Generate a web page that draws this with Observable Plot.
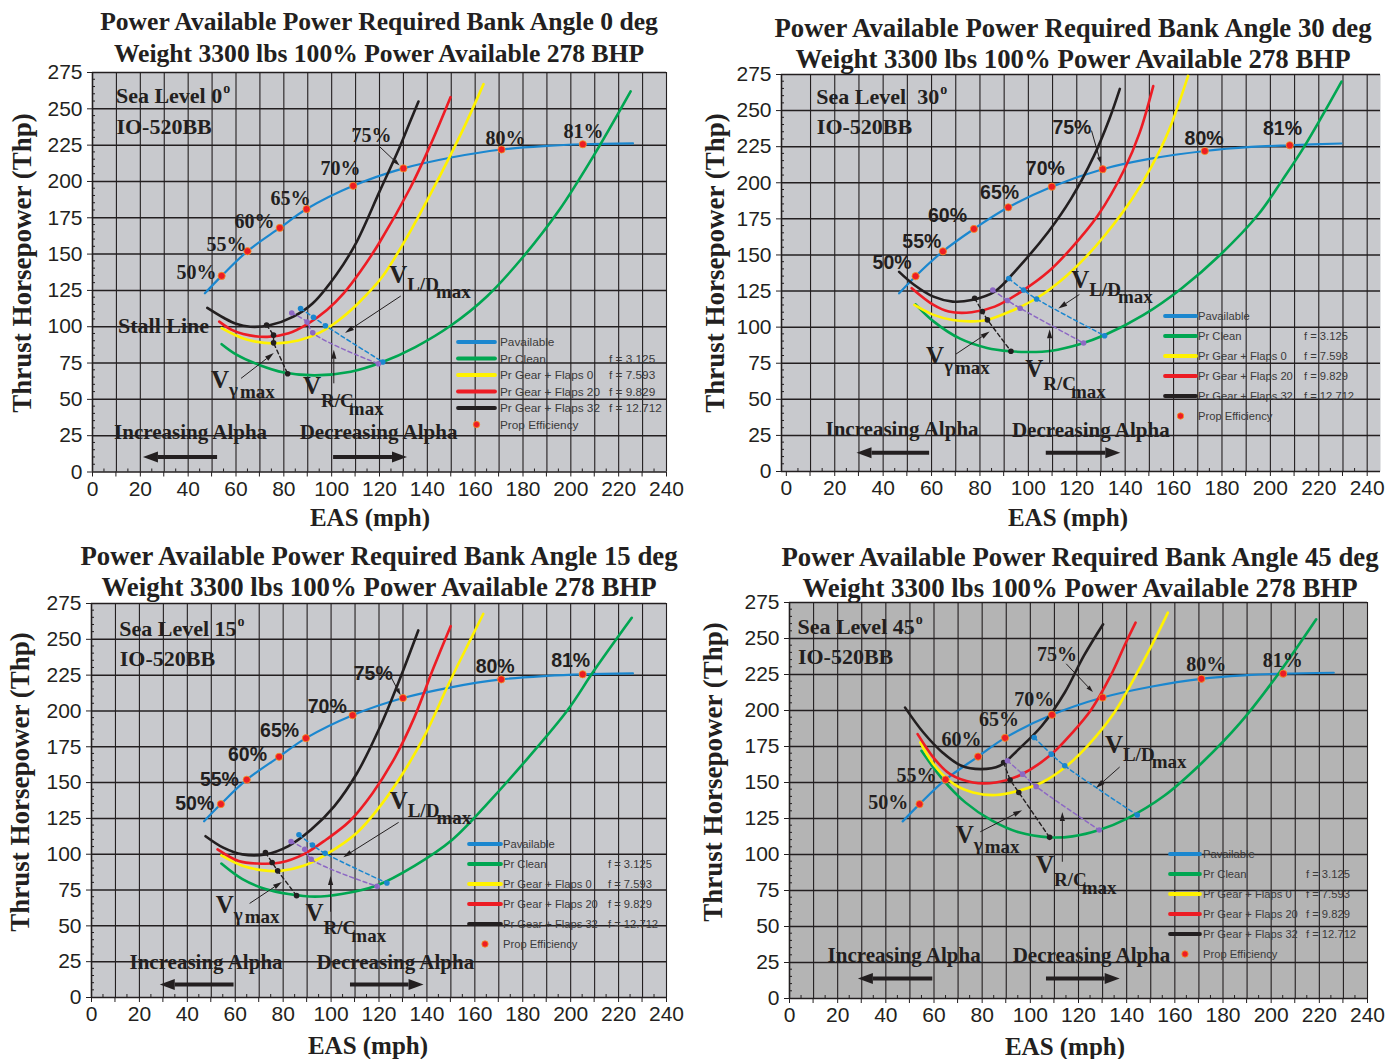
<!DOCTYPE html>
<html><head><meta charset="utf-8">
<script src="https://cdn.jsdelivr.net/npm/d3@7"></script>
<script src="https://cdn.jsdelivr.net/npm/@observablehq/plot@0.6"></script>
<style>
body{margin:0;background:#fff;width:1398px;height:1059px;position:relative;overflow:hidden;}
.title{position:absolute;width:760px;font-family:'Liberation Serif','Times New Roman',serif;font-weight:bold;text-align:center;color:#231f20;white-space:nowrap;}
.panel{position:absolute;}
</style></head><body>
<script>
// ---------------- DATA ----------------
const xLabelTicks = [0,20,40,60,80,100,120,140,160,180,200,220,240];
const yLabelTicks = [0,25,50,75,100,125,150,175,200,225,250,275];

// Power available (read from the 0, 15 and 45 deg panels)
const pavailable = [[47,123],[54,135],[64.8,152],[78.3,168],[89.5,181],[109,197],[130,209],[150,216.5],[171,222],[190,224.5],[205,225.6],[226,226.2]];
// Power available as drawn in the 30 deg panel
const pavailable30 = [[46.6,123.4],[53.4,135.3],[64.7,152.5],[77.5,168],[91.7,183],[109.7,197.3],[130.7,209.4],[150,216.5],[172.9,222],[192,224.8],[208,226],[229.4,227.2]];
const effLabels = ["50%","55%","60%","65%","70%","75%","80%","81%"];
const effSpeed  = [54, 64.8, 78.3, 89.5, 109, 130, 171, 205];
const effSpeed30 = [53.4, 64.7, 77.5, 91.7, 109.7, 130.7, 172.9, 208];
const effThp    = [135, 152, 168, 181, 197, 209, 222, 225.6];
const effThp30  = [135.3, 152.5, 168, 183, 197.3, 209.4, 222, 226];

const seriesNames = ["Pr Clean","Pr Gear + Flaps 0","Pr Gear + Flaps 20","Pr Gear + Flaps 32"];
const seriesF = ["f = 3.125","f = 7.593","f = 9.829","f = 12.712"];

// Bank 0 deg
const clean0 = [[54,88],[60,81],[70,73.5],[80,68.5],[93,66.5],[108,69],[121,75.5],[135,86],[150,101],[165,121],[180,148],[195,180],[210,219],[225,262]];
const flaps0_0 = [[54,99],[60,94],[66,90.5],[76,88.5],[86,90.5],[95,96],[103,104.5],[111,116],[121,134],[133,166],[145,203],[155,236],[163.5,267]];
const flaps20_0 = [[53,103.5],[58,98],[63,95],[73,93],[82,95.5],[90,102],[98,111.5],[105,123],[112,138],[120,158],[133,196],[141,224],[149.7,258]];
const flaps32_0 = [[48,113],[55,106],[60,102],[66,100],[74,101],[84,107],[92,116],[102,136],[110,157],[120,193],[128,222],[133,242],[136.3,255]];
const vgam0 = [[72.8,101.2],[75.7,94.2],[75.7,88.9],[81.6,67.6]];
const vld0 = [[87,112.5],[92.4,106.5],[97.4,100.7],[121.4,75.7]];
const vrc0 = [[83.3,109.5],[89.7,103.2],[92.1,95.8],[119.5,74.5]];

// Bank 30 deg
const clean30 = [[53.4,115.8],[60.8,104],[71.8,92],[82.9,85.6],[92.4,83.3],[100.3,82.8],[109.7,83.7],[120.8,88],[131.8,94.7],[147.6,108.5],[163.4,127],[179.2,150],[195,178],[205,202],[214,225],[229.4,270]];
const flaps0_30 = [[52.9,115.4],[60.8,108.5],[68.7,105],[76.6,104],[82.9,105],[92.4,110.8],[103.4,120],[114.5,133.7],[124,149],[131.8,164],[142.9,189],[150.8,211],[158,236],[166,274]];
const flaps20_30 = [[51.8,127],[60.8,115.4],[67.1,110.8],[76.6,110.3],[86.1,114.2],[97.1,124.6],[108.2,138.3],[117.6,154.4],[128.7,177.3],[139.7,209.4],[146,234.7],[151.6,267]];
const flaps32_30 = [[46.6,138.3],[52.9,129.2],[60.8,121.1],[68.7,117.7],[76.6,118.8],[86.1,124.6],[95.5,140.6],[108.2,165.9],[117.6,188.8],[127.1,218.6],[133.4,243.8],[137.8,265]];
const vgam30 = [[77.8,120],[81,110.8],[83.1,105],[92.8,83.3]];
const vld30 = [[91.9,133.7],[98,125.7],[103.4,119.5],[131.5,94]];
const vrc30 = [[85.3,125.7],[91.4,118.4],[96.6,113.1],[122.8,89]];

// Bank 15 deg
const clean15 = [[54.2,93.5],[63,82.6],[72.6,75.7],[82.2,72.2],[93.3,70.4],[104.4,72.2],[118.8,78],[134.8,91.9],[150.7,110.3],[166.7,138],[182.6,168],[198.6,200.3],[209.7,228],[225.5,265]];
const flaps0_15 = [[54.2,99.2],[63,91.9],[71,88.9],[78.9,88.4],[88.5,91.9],[98,99.9],[110.8,115],[120.4,133.4],[130,156.5],[139.5,184.2],[149.1,219],[158.7,251.5],[163.5,267.7]];
const flaps20_15 = [[52.6,103.4],[61.4,95.3],[69.3,93.5],[78.9,94.2],[88.5,99.9],[98,110.3],[107.7,123],[117.3,142.6],[126.8,168],[134.8,195.7],[142.8,230.3],[149.9,259.2]];
const flaps32_15 = [[47.6,112.6],[55,104.6],[63,99.9],[72.6,99.9],[82.2,105.7],[91.7,117.2],[101.3,133.4],[110.8,156.5],[120.4,188.8],[128.4,221.1],[136.4,256.2]];
const vgam15 = [[72.6,101.1],[75.4,94.2],[77.7,88.4],[85.6,71.1]];
const vld15 = [[86.6,113.6],[92.2,106.4],[97.5,100.6],[123.3,79.9]];
const vrc15 = [[83.3,108.9],[89,103.4],[91.7,96.5],[119.2,77.6]];

// Bank 45 deg
const clean45 = [[54.8,172],[63.5,152.4],[73,136.2],[84.1,123.5],[95.2,115.4],[108,111.9],[117.5,112.6],[128.6,117],[139.7,124.6],[155.6,140.8],[171.4,163.9],[187.3,191.7],[203.2,225.9],[218.7,263.3]];
const flaps0_45 = [[54.3,177.8],[60.3,161.6],[68.3,148.9],[76.2,143.1],[85.7,141.3],[95.2,144.3],[104.8,150],[114.3,160.4],[123.8,175.5],[134.9,198.6],[144.4,226.3],[152.4,251.8],[157.1,268]];
const flaps20_45 = [[53.2,183.6],[60.3,166.2],[66.7,155.8],[76.2,150],[85.7,150],[95.2,154.7],[108,168.5],[117.5,184.7],[125.4,200.9],[133.3,224],[139.7,247.2],[143.7,261]];
const flaps32_45 = [[48,202],[55.6,184.7],[63.5,170.9],[71.4,161.6],[79.4,159.3],[87.3,161.6],[95.2,173.2],[104.8,189.4],[114.3,212.5],[122.2,237.9],[130.2,259.9]];
const vgam45 = [[88.9,163.9],[91.6,151.7],[95.2,143.1],[108,111.9]];
const vld45 = [[101.6,181.3],[108.7,169.7],[114.3,161.6],[144.4,127.4]];
const vrc45 = [[90.5,165.1],[96.8,155.8],[102.4,147.3],[128.6,117]];

// ---------------- STYLE ----------------
const INK = "#231f20";
const BLUE = "#1b87cf", GREEN = "#00a651", YELLOW = "#fff200", RED = "#ed1c24", PURPLE = "#8d68c4";
const SERIF = "'Liberation Serif','Times New Roman',serif";
const SANS = "'Liberation Sans',Arial,sans-serif";
const seriesColors = [GREEN, YELLOW, RED, INK];
const W = 699;

const panels = [
  { title:["Power Available Power Required Bank Angle 0 deg","Weight 3300 lbs 100% Power Available 278 BHP"],
    tcx:379, ttop:6, tsize:25.6, tlh:32,
    left:0, top:66, h:466, mL:92, mR:33, mT:6, mB:60.5, xDomain:[0,240], bg:"#c8c9cd",
    pav:pavailable, effX:effSpeed, effY:effThp,
    curves:[clean0, flaps0_0, flaps20_0, flaps32_0], vg:vgam0, ld:vld0, rc:vrc0,
    seaText:"Sea Level 0", sea:[10,253.7], io:[10,233],
    pctFont:SERIF, pctSize:20,
    pct:[[43.5,137.3],[56,156.6],[67.7,172.4],[82.8,188.3],[103.7,208.9],[116.7,231.6],[172.7,229.6],[205.3,234.4]],
    lead75:[120.4,223.4,128.6,210.6],
    stall:[29.7,100.2],
    vLD:[128,135.3], aLD:[129.1,120.8,105.8,95.4],
    vG:[53.5,63], aG:[62.3,64.1,76,81.5],
    vRC:[92,58.9], aRC:[101.1,60.7,101.1,83.8],
    inc:[41,27.2], aInc:[52.3,10,21.3,10], dec:[119.6,27.2], aDec:[100.8,10,131.7,10],
    yT:[22,263], xT:[370,517],
    leg:{x1:458,x2:495,lx:500,fx:609,y0:342,dy:16.5,fs:11.8} },
  { title:["Power Available Power Required Bank Angle 30 deg","Weight 3300 lbs 100% Power Available 278 BHP"],
    tcx:1073, ttop:12.5, tsize:26.8, tlh:31,
    left:699, top:68, h:464, mL:82, mR:18, mT:6, mB:61, xDomain:[-2,245.5], bg:"#c8c9cd",
    pav:pavailable30, effX:effSpeed30, effY:effThp30,
    curves:[clean30, flaps0_30, flaps20_30, flaps32_30], vg:vgam30, ld:vld30, rc:vrc30,
    seaText:"Sea Level\u00a0 30", sea:[12.6,254.2], io:[12.6,233.5],
    pctFont:SANS, pctSize:19.5,
    pct:[[43.7,144.8],[56,159],[66.6,176.9],[88.1,193.4],[107,209.4],[118,238.1],[172.6,230.5],[205,237.4]],
    lead75:[126.3,235.8,130.2,212.8],
    stall:null,
    vLD:[121.6,132.6], aLD:[121.3,122.3,112.6,112.6],
    vG:[61.6,79.8], aG:[70.3,81,84.2,96.6],
    vRC:[102.6,70.7], aRC:[109,74.1,109,98.2],
    inc:[47.8,29.4], aInc:[59.2,12.6,29.2,12.6], dec:[125.8,28.9], aDec:[107.4,12.6,138.2,12.6],
    yT:[715,263], xT:[1068,517],
    leg:{x1:1165,x2:1196,lx:1198,fx:1304,y0:316,dy:20,fs:11.2} },
  { title:["Power Available Power Required Bank Angle 15 deg","Weight 3300 lbs 100% Power Available 278 BHP"],
    tcx:379, ttop:540.5, tsize:26.8, tlh:31,
    left:0, top:597, h:462, mL:91, mR:33, mT:6, mB:62, xDomain:[0,240], bg:"#c8c9cd",
    pav:pavailable, effX:effSpeed, effY:effThp,
    curves:[clean15, flaps0_15, flaps20_15, flaps32_15], vg:vgam15, ld:vld15, rc:vrc15,
    seaText:"Sea Level 15", sea:[11.8,252], io:[11.8,231.7],
    pctFont:SANS, pctSize:19.5,
    pct:[[43.1,135.5],[53.4,152],[65.1,169.6],[78.5,186.5],[98.4,203.1],[117.6,226.2],[168.5,231],[200,235.3]],
    lead75:[125.2,223.4,129.2,210.6],
    stall:null,
    vLD:[128.4,136.9], aLD:[128.4,121.9,105.3,97.6],
    vG:[55.8,64.2], aG:[66.2,65.3,79.7,80.3],
    vRC:[93.3,58.4], aRC:[100,59.5,100,84.5],
    inc:[47.8,24.9], aInc:[59.5,8.8,28.7,8.8], dec:[126.8,24.9], aDec:[108.1,8.8,138.8,8.8],
    yT:[20,782], xT:[368,1045],
    leg:{x1:469,x2:501,lx:503,fx:608,y0:844,dy:20,fs:11.2} },
  { title:["Power Available Power Required Bank Angle 45 deg","Weight 3300 lbs 100% Power Available 278 BHP"],
    tcx:1080, ttop:541.5, tsize:26.8, tlh:31,
    left:699, top:596, h:463, mL:90, mR:31, mT:6, mB:61, xDomain:[0,240], bg:"#b4b4b4",
    pav:pavailable, effX:effSpeed, effY:effThp,
    curves:[clean45, flaps0_45, flaps20_45, flaps32_45], vg:vgam45, ld:vld45, rc:vrc45,
    seaText:"Sea Level 45", sea:[3.5,253], io:[3.5,232],
    pctFont:SERIF, pctSize:20,
    pct:[[41,135.7],[52.7,154.7],[71.4,180.1],[87,194],[101.6,207.9],[111.1,239],[173,232.1],[204.8,234.4]],
    lead75:[115.1,232.1,126.2,212.5],
    stall:null,
    vLD:[134.9,175.5], aLD:[137.3,160.4,127.5,145.9],
    vG:[73,113], aG:[79.4,115.4,96.8,130.4],
    vRC:[106.3,92.2], aRC:[113.5,94.6,113.5,129.2],
    inc:[47.6,29.8], aInc:[59.5,13.6,28.6,13.6], dec:[125.4,30.3], aDec:[106.7,13.6,137.3,13.6],
    yT:[713,772], xT:[1065,1046],
    leg:{x1:1170,x2:1200,lx:1203,fx:1306,y0:854,dy:20,fs:11.2} }
];

// ---------------- HELPERS ----------------
function arrow(g, x1, y1, x2, y2, {w = 1, head = 9, hw = 2.6, color = INK} = {}) {
  const dx = x2 - x1, dy = y2 - y1, L = Math.hypot(dx, dy), ux = dx / L, uy = dy / L;
  const bx = x2 - ux * head, by = y2 - uy * head;
  g.append("line").attr("x1", x1).attr("y1", y1).attr("x2", bx).attr("y2", by)
    .attr("stroke", color).attr("stroke-width", w);
  g.append("path").attr("d", `M${x2},${y2}L${bx - uy * hw},${by + ux * hw}L${bx + uy * hw},${by - ux * hw}Z`).attr("fill", color);
}
function vLabel(g, cx, cy, kind) {
  const t = g.append("text").attr("x", cx - 9).attr("y", cy + 8).attr("text-anchor", "start")
    .attr("font-family", SERIF).attr("font-weight", "bold").attr("fill", INK);
  t.append("tspan").attr("font-size", 25).text("V");
  if (kind === "ld") {
    t.append("tspan").attr("font-size", 19).attr("dy", 8).text("L/D");
    t.append("tspan").attr("font-size", 19).attr("dy", 7).attr("dx", -3).text("max");
  } else if (kind === "g") {
    t.append("tspan").attr("font-size", 19).attr("dy", 8).text("γ");
    t.append("tspan").attr("font-size", 19).attr("dy", 2).attr("dx", 2).text("max");
  } else {
    t.append("tspan").attr("font-size", 19).attr("dy", 13).text("R/C");
    t.append("tspan").attr("font-size", 19).attr("dy", 8).attr("dx", -5).text("max");
  }
}

// ---------------- BUILD ----------------
for (const p of panels) {
  const td = document.createElement("div");
  td.className = "title";
  td.style.left = (p.tcx - 380) + "px";
  td.style.top = p.ttop + "px";
  td.style.fontSize = p.tsize + "px";
  td.style.lineHeight = p.tlh + "px";
  td.innerHTML = p.title.map(s => `<div>${s}</div>`).join("");
  document.body.appendChild(td);

  const idx = d3.range(effLabels.length);
  const marks = [
    Plot.frame({fill: p.bg, stroke: null}),
    Plot.gridX(d3.range(10, 241, 10), {stroke: INK, strokeOpacity: 1, strokeWidth: 1.1}),
    Plot.gridY(d3.range(25, 276, 25), {stroke: INK, strokeOpacity: 1, strokeWidth: 1.5}),
    Plot.ruleY([0], {stroke: INK, strokeWidth: 1.6}),
    Plot.ruleX([p.xDomain[0]], {stroke: INK, strokeWidth: 1.6}),
    Plot.axisX(xLabelTicks, {tickSize: 5, tickPadding: 4, fontSize: 21, fontFamily: SANS, color: INK, label: null}),
    Plot.axisY(yLabelTicks, {tickSize: 5, tickPadding: 5, fontSize: 21, fontFamily: SANS, color: INK, label: null}),
    Plot.line(p.pav, {x: d => d[0], y: d => d[1], stroke: BLUE, strokeWidth: 2.2, curve: "catmull-rom", clip: true}),
  ];
  p.curves.forEach((c, i) => marks.push(
    Plot.line(c, {x: d => d[0], y: d => d[1], stroke: seriesColors[i], strokeWidth: 2.6, curve: "catmull-rom", clip: true})
  ));
  marks.push(
    Plot.line(p.vg, {x: d => d[0], y: d => d[1], stroke: INK, strokeWidth: 1.4, strokeDasharray: "4,3"}),
    Plot.line(p.ld, {x: d => d[0], y: d => d[1], stroke: BLUE, strokeWidth: 1.5, strokeDasharray: "4,3", curve: "catmull-rom"}),
    Plot.line(p.rc, {x: d => d[0], y: d => d[1], stroke: PURPLE, strokeWidth: 1.5, strokeDasharray: "4,3", curve: "catmull-rom"}),
    Plot.dot(p.vg, {x: d => d[0], y: d => d[1], r: 2.8, fill: INK}),
    Plot.dot(p.ld, {x: d => d[0], y: d => d[1], r: 2.8, fill: BLUE}),
    Plot.dot(p.rc, {x: d => d[0], y: d => d[1], r: 2.8, fill: PURPLE}),
    Plot.dot(idx, {x: i => p.effX[i], y: i => p.effY[i], r: 3.6, fill: RED, stroke: "#f7941d", strokeWidth: 0.8}),
    Plot.text(idx, {x: i => p.pct[i][0], y: i => p.pct[i][1], text: i => effLabels[i], fontSize: p.pctSize, fontWeight: "bold", fontFamily: p.pctFont, fill: INK}),
    Plot.text(["IO-520BB"], {x: () => p.io[0], y: () => p.io[1], text: d => d, textAnchor: "start", lineAnchor: "bottom", fontSize: 22, fontWeight: "bold", fontFamily: SERIF, fill: INK}),
    Plot.text(["Increasing Alpha"], {x: () => p.inc[0], y: () => p.inc[1], text: d => d, fontSize: 21, fontWeight: "bold", fontFamily: SERIF, fill: INK}),
    Plot.text(["Decreasing Alpha"], {x: () => p.dec[0], y: () => p.dec[1], text: d => d, fontSize: 21, fontWeight: "bold", fontFamily: SERIF, fill: INK})
  );
  if (p.stall) marks.push(Plot.text(["Stall Line"], {x: () => p.stall[0], y: () => p.stall[1], text: d => d, fontSize: 22, fontWeight: "bold", fontFamily: SERIF, fill: INK}));

  const svg = Plot.plot({
    width: W, height: p.h,
    marginLeft: p.mL, marginRight: p.mR, marginTop: p.mT, marginBottom: p.mB,
    x: {domain: p.xDomain},
    y: {domain: [0, 275]},
    style: {background: "transparent", overflow: "visible", fontFamily: SANS},
    marks
  });
  const wrap = document.createElement("div");
  wrap.className = "panel";
  wrap.style.left = p.left + "px";
  wrap.style.top = p.top + "px";
  wrap.appendChild(svg);
  document.body.appendChild(wrap);

  const sx = svg.scale("x"), sy = svg.scale("y");
  const X = v => sx.apply(v), Y = v => sy.apply(v);
  const g = d3.select(svg).append("g").attr("text-anchor", "start");
  const x0 = X(p.xDomain[0]), yb = Y(0);

  for (let v = 10; v <= 240; v += 20) g.append("line").attr("x1", X(v)).attr("x2", X(v)).attr("y1", yb).attr("y2", yb + 5).attr("stroke", INK);
  for (let v = 5; v < 245; v += 10) g.append("line").attr("x1", X(v)).attr("x2", X(v)).attr("y1", yb).attr("y2", yb - 3).attr("stroke", INK);
  for (let v = 5; v < 275; v += 5) if (v % 25) g.append("line").attr("x1", x0).attr("x2", x0 + 3).attr("y1", Y(v)).attr("y2", Y(v)).attr("stroke", INK);

  const st = g.append("text").attr("x", X(p.sea[0])).attr("y", Y(p.sea[1])).attr("text-anchor", "start")
    .attr("font-family", SERIF).attr("font-weight", "bold").attr("font-size", 22).attr("fill", INK);
  st.append("tspan").text(p.seaText);
  st.append("tspan").attr("font-size", 14).attr("dy", -10).attr("dx", 1).text("o");

  arrow(g, X(p.lead75[0]), Y(p.lead75[1]), X(p.lead75[2]), Y(p.lead75[3]), {head: 7, hw: 2.2});
  vLabel(g, X(p.vLD[0]), Y(p.vLD[1]), "ld");
  vLabel(g, X(p.vG[0]), Y(p.vG[1]), "g");
  vLabel(g, X(p.vRC[0]), Y(p.vRC[1]), "rc");
  arrow(g, X(p.aLD[0]), Y(p.aLD[1]), X(p.aLD[2]), Y(p.aLD[3]));
  arrow(g, X(p.aG[0]), Y(p.aG[1]), X(p.aG[2]), Y(p.aG[3]));
  arrow(g, X(p.aRC[0]), Y(p.aRC[1]), X(p.aRC[2]), Y(p.aRC[3]));
  arrow(g, X(p.aInc[0]), Y(p.aInc[1]), X(p.aInc[2]), Y(p.aInc[3]), {w: 4, head: 15, hw: 5.5});
  arrow(g, X(p.aDec[0]), Y(p.aDec[1]), X(p.aDec[2]), Y(p.aDec[3]), {w: 4, head: 15, hw: 5.5});

  const yt = [p.yT[0] - p.left, p.yT[1] - p.top];
  g.append("text").attr("transform", `translate(${yt[0]},${yt[1]}) rotate(-90)`)
    .attr("text-anchor", "middle").attr("dominant-baseline", "central")
    .attr("font-family", SERIF).attr("font-weight", "bold").attr("font-size", 27).attr("fill", INK)
    .text("Thrust Horsepower (Thp)");
  g.append("text").attr("x", p.xT[0] - p.left).attr("y", p.xT[1] - p.top)
    .attr("text-anchor", "middle").attr("dominant-baseline", "central")
    .attr("font-family", SERIF).attr("font-weight", "bold").attr("font-size", 25).attr("fill", INK)
    .text("EAS (mph)");

  const L = p.leg;
  const rows = [{label: "Pavailable", color: BLUE}]
    .concat(seriesNames.map((s, i) => ({label: s, color: seriesColors[i], f: seriesF[i]})))
    .concat([{label: "Prop Efficiency", dot: true}]);
  rows.forEach((r, i) => {
    const y = L.y0 + i * L.dy - p.top;
    const lx1 = L.x1 - p.left, lx2 = L.x2 - p.left;
    if (r.dot) {
      g.append("circle").attr("cx", (lx1 + lx2) / 2).attr("cy", y).attr("r", 3.2).attr("fill", RED).attr("stroke", "#f7941d").attr("stroke-width", 0.8);
    } else {
      g.append("line").attr("x1", lx1).attr("x2", lx2).attr("y1", y).attr("y2", y)
        .attr("stroke", r.color).attr("stroke-width", 3.8).attr("stroke-linecap", "round");
    }
    g.append("text").attr("x", L.lx - p.left).attr("y", y).attr("text-anchor", "start").attr("dominant-baseline", "central")
      .attr("font-family", SANS).attr("font-size", L.fs).attr("fill", "#3a3a3a").text(r.label);
    if (r.f) g.append("text").attr("x", L.fx - p.left).attr("y", y).attr("text-anchor", "start").attr("dominant-baseline", "central")
      .attr("font-family", SANS).attr("font-size", L.fs).attr("fill", "#3a3a3a").text(r.f);
  });
}
</script>
</body></html>
